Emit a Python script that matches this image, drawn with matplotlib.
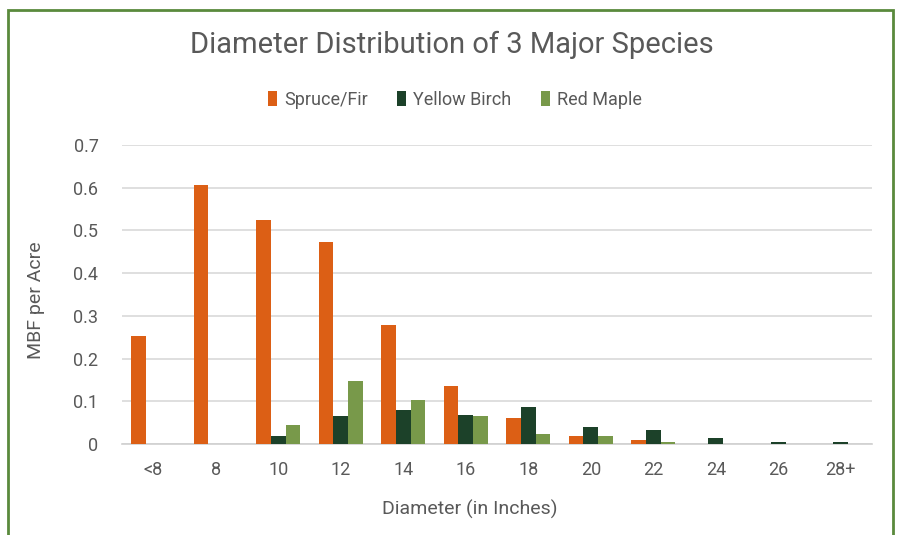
import matplotlib.pyplot as plt
import numpy as np
from matplotlib.patches import Rectangle

# chart data
categories = ['<8', '8', '10', '12', '14', '16', '18', '20', '22', '24', '26', '28+']
spruce_fir = [0.253, 0.607, 0.525, 0.473, 0.278, 0.135, 0.061, 0.019, 0.010, 0.0, 0.0, 0.0]
yellow_birch = [0.0, 0.0, 0.019, 0.066, 0.079, 0.069, 0.087, 0.039, 0.032, 0.013, 0.005, 0.005]
red_maple = [0.0, 0.0, 0.044, 0.148, 0.102, 0.066, 0.023, 0.018, 0.005, 0.0, 0.0, 0.0]
series_names = ['Spruce/Fir', 'Yellow Birch', 'Red Maple']
colors = ['#dc5f15', '#1c4129', '#78994a']

plt.rcParams['font.family'] = ['Roboto', 'DejaVu Sans']
text_color = '#595959'

fig = plt.figure(figsize=(8.98, 5.35), dpi=100)
ax = fig.add_axes([122 / 898, 1 - 444 / 535, 750 / 898, 299 / 535])

x = np.arange(len(categories))
w = 0.235
for i, (vals, name, c) in enumerate(zip([spruce_fir, yellow_birch, red_maple], series_names, colors)):
    ax.bar(x + (i - 1) * w, vals, width=w, color=c, label=name, zorder=3)

ax.set_xlim(-0.5, len(categories) - 0.5)
ax.set_ylim(0, 0.7)
ax.set_yticks(np.arange(0, 0.71, 0.1))
ax.set_yticklabels(['0'] + [f'{v:.1f}' for v in np.arange(0.1, 0.71, 0.1)])
ax.set_xticks(x)
ax.set_xticklabels(categories)
ax.tick_params(length=0, labelsize=13, colors=text_color)
ax.tick_params(axis='x', pad=12)
ax.tick_params(axis='y', pad=17)
ax.grid(axis='y', color='#d9d9d9', linewidth=1.2, zorder=0)
for s in ['top', 'right', 'left']:
    ax.spines[s].set_visible(False)
ax.spines['bottom'].set_color('#d0d0d0')
ax.spines['bottom'].set_linewidth(1.2)

ax.set_ylabel('MBF per Acre', fontsize=14, color=text_color)
ax.set_xlabel('Diameter (in Inches)', fontsize=14, color=text_color)
ax.yaxis.set_label_coords(-0.103, 0.48)
ax.xaxis.set_label_coords(0.463, -0.185)

fig.text(452 / 898, 1 - 45 / 535, 'Diameter Distribution of 3 Major Species',
         ha='center', va='center', fontsize=21, color=text_color)
ax.legend(loc='center', bbox_to_anchor=(455 / 898, 1 - 100 / 535), bbox_transform=fig.transFigure,
          ncol=3, frameon=False, fontsize=13, labelcolor=text_color,
          handlelength=0.5, handleheight=0.9, handletextpad=0.4, columnspacing=1.6)

# green frame around the chart
fig.patches.append(Rectangle((8 / 898, -0.02), 885 / 898, 1 - 10 / 535 + 0.02,
                             transform=fig.transFigure, fill=False,
                             edgecolor='#5a8a3c', linewidth=2))

fig.savefig('out.png', dpi=100)
